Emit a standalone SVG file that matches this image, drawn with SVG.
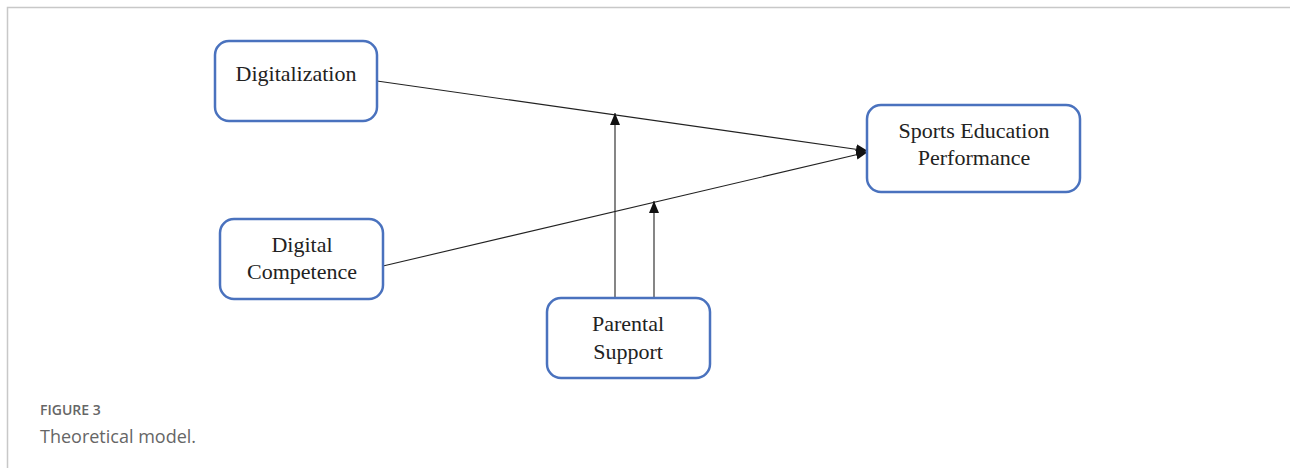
<svg xmlns="http://www.w3.org/2000/svg" width="1290" height="468" viewBox="0 0 1290 468">
<style>
.box{fill:#fff;stroke:#4a72be;stroke-width:2.5}
.lbl{font-family:"Liberation Serif","Times New Roman",serif;font-size:22px;fill:#222;text-anchor:middle}
.edge{stroke:#222;stroke-width:1.1;fill:none}
.cap1{font-family:"Open Sans","Lato",sans-serif;font-size:14px;font-weight:600;fill:#666}
.cap2{font-family:"Open Sans","Lato",sans-serif;font-size:18px;fill:#666}
</style>
<defs>
<marker id="arr" viewBox="0 0 12 10" refX="12" refY="5" markerWidth="12" markerHeight="10" markerUnits="userSpaceOnUse" orient="auto">
<path d="M0,0 L12,5 L0,10 z" fill="#111"/>
</marker>
</defs>
<rect width="1290" height="468" fill="#fff"/>
<path d="M7.5,468 V7.5 H1290" fill="none" stroke="#c8c8c8" stroke-width="1.5"/>
<g id="connectors">
<line class="edge" x1="377" y1="81" x2="868" y2="151" marker-end="url(#arr)"/>
<line class="edge" x1="383" y1="266" x2="868" y2="152" marker-end="url(#arr)"/>
<line class="edge" x1="615" y1="298" x2="615" y2="113" marker-end="url(#arr)"/>
<line class="edge" x1="654" y1="298" x2="654" y2="201" marker-end="url(#arr)"/>
</g>
<g id="digitalization">
<rect class="box" x="215" y="41" width="162" height="80" rx="14"/>
<text class="lbl" x="296" y="81">Digitalization</text>
</g>
<g id="sports-education-performance">
<rect class="box" x="867" y="105" width="213" height="87" rx="14"/>
<text class="lbl" x="974" y="138">Sports Education</text>
<text class="lbl" x="974" y="165">Performance</text>
</g>
<g id="digital-competence">
<rect class="box" x="220" y="219" width="163" height="80" rx="14"/>
<text class="lbl" x="302" y="252">Digital</text>
<text class="lbl" x="302" y="279">Competence</text>
</g>
<g id="parental-support">
<rect class="box" x="547" y="298" width="163" height="80" rx="14"/>
<text class="lbl" x="628" y="331">Parental</text>
<text class="lbl" x="628" y="359">Support</text>
</g>
<text class="cap1" x="40" y="415">FIGURE 3</text>
<text class="cap2" x="40" y="443">Theoretical model.</text>
</svg>
